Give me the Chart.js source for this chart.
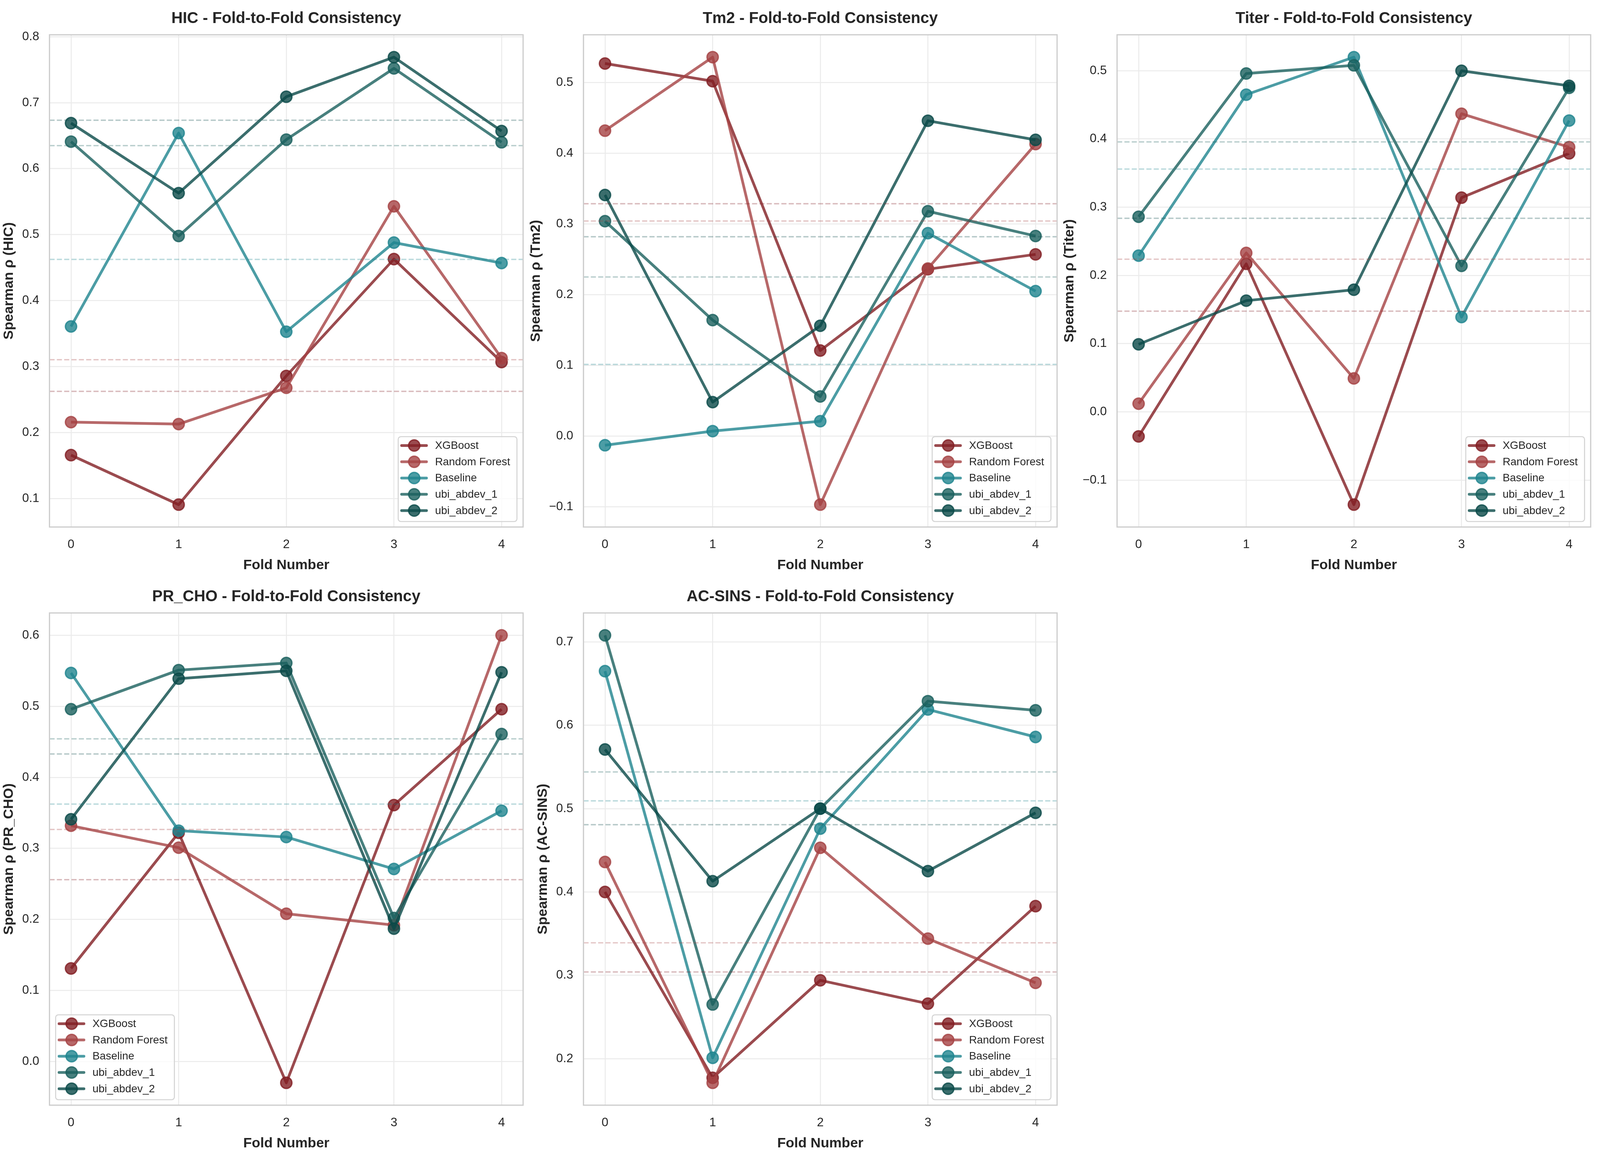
<!DOCTYPE html>
<html>
<head>
<meta charset="utf-8">
<script src="https://cdn.jsdelivr.net/npm/chart.js@4.4.0/dist/chart.umd.min.js"></script>
<style>
  html, body { margin: 0; padding: 0; background: #fff; overflow: hidden; }
  #fig { position: relative; overflow: hidden; }
  .panel { position: absolute; }
</style>
</head>
<body>
<div id="fig"></div>
<script>
// --- data (Spearman rho per fold) ---
const targets = ['HIC', 'Tm2', 'Titer', 'PR_CHO', 'AC-SINS'];
const folds = [0, 1, 2, 3, 4];
const modelNames = ['XGBoost', 'Random Forest', 'Baseline', 'ubi_abdev_1', 'ubi_abdev_2'];

// one row per target, in the order of `targets`
const xgboostRho = [
  [0.166, 0.091, 0.286, 0.463, 0.307],
  [0.527, 0.502, 0.121, 0.236, 0.257],
  [-0.036, 0.217, -0.136, 0.314, 0.379],
  [0.131, 0.322, -0.030, 0.361, 0.496],
  [0.400, 0.177, 0.294, 0.266, 0.383]
];
const randomForestRho = [
  [0.216, 0.213, 0.268, 0.543, 0.313],
  [0.432, 0.536, -0.097, 0.237, 0.413],
  [0.012, 0.233, 0.049, 0.437, 0.388],
  [0.332, 0.301, 0.208, 0.192, 0.600],
  [0.436, 0.171, 0.453, 0.344, 0.291]
];
const baselineRho = [
  [0.361, 0.654, 0.353, 0.488, 0.457],
  [-0.013, 0.007, 0.021, 0.287, 0.205],
  [0.229, 0.465, 0.520, 0.139, 0.427],
  [0.547, 0.325, 0.316, 0.271, 0.353],
  [0.665, 0.201, 0.476, 0.619, 0.586]
];
const ubiAbdev1Rho = [
  [0.641, 0.498, 0.644, 0.752, 0.640],
  [0.304, 0.164, 0.056, 0.318, 0.283],
  [0.286, 0.496, 0.508, 0.214, 0.475],
  [0.496, 0.551, 0.561, 0.202, 0.461],
  [0.708, 0.265, 0.500, 0.629, 0.618]
];
const ubiAbdev2Rho = [
  [0.669, 0.563, 0.709, 0.769, 0.657],
  [0.341, 0.048, 0.156, 0.446, 0.419],
  [0.099, 0.163, 0.179, 0.500, 0.478],
  [0.341, 0.539, 0.550, 0.187, 0.548],
  [0.571, 0.413, 0.500, 0.425, 0.495]
];
const seriesRho = [xgboostRho, randomForestRho, baselineRho, ubiAbdev1Rho, ubiAbdev2Rho];

// --- styling ---
const modelRGB = ['130,30,35', '165,66,67', '31,133,143', '26,96,94', '10,74,72'];
const legendCorner = ['br', 'br', 'br', 'bl', 'br'];

// layout of the 5379x2977 original; mapped onto whatever viewport we get
const FIG_W = 5379, FIG_H = 2977;
const AXES_LEFT = [167, 1961, 3755];
const AXES_TOP = [89, 1569];
const AXES_W = 1596, AXES_H = 1260;
const FONT = '"Liberation Sans", Arial, Helvetica, sans-serif';
const TEXT = '#262626';

const sx = Math.min(1, (window.innerWidth || FIG_W) / FIG_W);
const sy = Math.min(1, (window.innerHeight || FIG_H) / FIG_H);
const fs = Math.sqrt(sx * sy);   // size factor for fonts, strokes, markers

const TITLE_SIZE = 46 * fs, LABEL_SIZE = 41 * fs, TICK_SIZE = 36 * fs, LEGEND_SIZE = 32 * fs;
const TITLE_LH = TITLE_SIZE * 1.2, LABEL_LH = LABEL_SIZE * 1.2, TICK_LH = TICK_SIZE * 1.2;
const Y_W = 175 * fs, PAD_R = 20 * sx;
const TOP_BAND = 89 * sy, TITLE_MID = 41 * sy;
const X_H = 123 * sy, PAD_BOTTOM = 8 * sy;

Chart.defaults.font.family = FONT;
Chart.defaults.color = TEXT;

function fmtTick(v) {
  if (Math.abs(v) < 1e-9) return '0.0';
  return v.toFixed(1).replace('-', '\u2212');
}

const measureCtx = document.createElement('canvas').getContext('2d');
function widestTick(yMin, yMax) {
  measureCtx.font = TICK_SIZE + 'px ' + FONT;
  let w = 0;
  for (let k = Math.ceil(yMin * 10 - 1e-9); k <= Math.floor(yMax * 10 + 1e-9); k++) {
    w = Math.max(w, measureCtx.measureText(fmtTick(k / 10)).width);
  }
  return w;
}

// frame + legend inside the axes
const framePlugin = {
  id: 'frameAndLegend',
  afterDatasetsDraw(chart, args, opts) {
    const { ctx, chartArea: a } = chart;
    ctx.save();
    ctx.strokeStyle = '#cccccc';
    ctx.lineWidth = 3.5 * fs;
    ctx.strokeRect(a.left, a.top, a.right - a.left, a.bottom - a.top);

    const items = chart.data.datasets.filter(d => !d.isMean);
    ctx.font = LEGEND_SIZE + 'px ' + FONT;
    const textW = Math.max(...items.map(d => ctx.measureText(d.label).width));
    const w = 108 * fs + textW + 20 * fs, h = 249 * fs;
    const x0 = opts.corner === 'bl' ? a.left + 18 * fs : a.right - 18 * fs - w;
    const y0 = a.bottom - 16 * fs - h;

    ctx.beginPath();
    ctx.roundRect(x0, y0, w, h, 8 * fs);
    ctx.fillStyle = 'rgba(255,255,255,0.8)';
    ctx.fill();
    ctx.strokeStyle = '#d4d4d4';
    ctx.lineWidth = 3 * fs;
    ctx.stroke();

    items.forEach((d, k) => {
      const cy = y0 + (26 + k * 47.7) * fs;
      ctx.beginPath();
      ctx.moveTo(x0 + 10 * fs, cy);
      ctx.lineTo(x0 + 83 * fs, cy);
      ctx.strokeStyle = d.borderColor;
      ctx.lineWidth = d.borderWidth;
      ctx.lineCap = 'round';
      ctx.stroke();
      ctx.beginPath();
      ctx.arc(x0 + 47 * fs, cy, d.pointRadius, 0, Math.PI * 2);
      ctx.fillStyle = d.pointBackgroundColor;
      ctx.fill();
      ctx.strokeStyle = d.pointBorderColor;
      ctx.lineWidth = d.pointBorderWidth;
      ctx.stroke();
      ctx.fillStyle = TEXT;
      ctx.textAlign = 'left';
      ctx.textBaseline = 'middle';
      ctx.fillText(d.label, x0 + 108 * fs, cy + fs);
    });
    ctx.restore();
  }
};

const fig = document.getElementById('fig');
fig.style.width = Math.round(FIG_W * sx) + 'px';
fig.style.height = Math.round(FIG_H * sy) + 'px';

const xSpan = folds[folds.length - 1] - folds[0];
const xMin = folds[0] - 0.05 * xSpan, xMax = folds[folds.length - 1] + 0.05 * xSpan;

targets.forEach((target, t) => {
  const col = t % 3, row = Math.floor(t / 3);
  const axLeft = AXES_LEFT[col] * sx, axTop = AXES_TOP[row] * sy;
  const axW = AXES_W * sx, axH = AXES_H * sy;
  const w = Math.round(Y_W + axW + PAD_R);
  const h = Math.round(TOP_BAND + axH + X_H + PAD_BOTTOM);

  const div = document.createElement('div');
  div.className = 'panel';
  div.style.left = (axLeft - Y_W) + 'px';
  div.style.top = (axTop - TOP_BAND) + 'px';
  div.style.width = w + 'px';
  div.style.height = h + 'px';
  const canvas = document.createElement('canvas');
  canvas.style.width = w + 'px'; canvas.style.height = h + 'px';
  canvas.width = w; canvas.height = h;
  div.appendChild(canvas);
  fig.appendChild(div);

  const all = seriesRho.flatMap(s => s[t]);
  const yLo = Math.min(...all), yHi = Math.max(...all);
  const yMin = yLo - 0.05 * (yHi - yLo), yMax = yHi + 0.05 * (yHi - yLo);

  // y label sits left of the widest tick label, as matplotlib places it
  const yTitleGap = 30 * fs + widestTick(yMin, yMax) + 14 * fs + LABEL_LH / 2;

  const lines = modelNames.map((name, m) => ({
    label: name,
    data: folds.map((f, i) => ({ x: f, y: seriesRho[m][t][i] })),
    borderColor: `rgba(${modelRGB[m]},0.8)`,
    backgroundColor: `rgba(${modelRGB[m]},0.8)`,
    pointBackgroundColor: `rgba(${modelRGB[m]},0.8)`,
    pointBorderColor: `rgba(${modelRGB[m]},0.8)`,
    borderWidth: 8 * fs,
    pointRadius: 16.5 * fs,
    pointBorderWidth: 4 * fs,
    borderJoinStyle: 'round',
    tension: 0,
    order: modelNames.length - m
  }));
  const means = modelNames.map((name, m) => {
    const v = seriesRho[m][t];
    const mean = v.reduce((s, x) => s + x, 0) / v.length;
    return {
      label: name + ' mean',
      isMean: true,
      data: [{ x: xMin, y: mean }, { x: xMax, y: mean }],
      borderColor: `rgba(${modelRGB[m]},0.3)`,
      borderWidth: 4 * fs,
      borderDash: [15 * fs, 6.5 * fs],
      pointRadius: 0,
      order: 0
    };
  });

  new Chart(canvas.getContext('2d'), {
    type: 'line',
    data: { datasets: lines.concat(means) },
    plugins: [framePlugin],
    options: {
      responsive: false,
      maintainAspectRatio: false,
      animation: false,
      devicePixelRatio: window.devicePixelRatio || 1,
      events: [],
      layout: {
        padding: { top: TOP_BAND - TITLE_MID - TITLE_LH / 2, left: 0, right: PAD_R, bottom: PAD_BOTTOM }
      },
      plugins: {
        legend: { display: false },
        tooltip: { enabled: false },
        title: {
          display: true,
          text: target + ' - Fold-to-Fold Consistency',
          fullSize: false,
          color: TEXT,
          font: { size: TITLE_SIZE, weight: 'bold', lineHeight: 1.2 },
          padding: { top: 0, bottom: TITLE_MID - TITLE_LH / 2 }
        },
        frameAndLegend: { corner: legendCorner[t] }
      },
      scales: {
        x: {
          type: 'linear',
          min: xMin, max: xMax,
          afterFit: s => { s.height = X_H; },
          ticks: {
            stepSize: 1, includeBounds: false, padding: 45 * sy - TICK_LH / 2,
            font: { size: TICK_SIZE, lineHeight: 1.2 }, color: TEXT,
            callback: v => String(v)
          },
          grid: { color: '#ebebeb', lineWidth: 3 * fs, drawTicks: false },
          border: { display: false },
          title: {
            display: true, text: 'Fold Number', color: TEXT,
            font: { size: LABEL_SIZE, weight: 'bold', lineHeight: 1.2 },
            padding: { top: 0, bottom: Math.max(0, X_H - 98 * sy - LABEL_LH / 2) }
          }
        },
        y: {
          type: 'linear',
          min: yMin, max: yMax,
          afterFit: s => { s.width = Y_W; },
          ticks: {
            stepSize: 0.1, includeBounds: false, padding: 30 * fs,
            font: { size: TICK_SIZE, lineHeight: 1.2 }, color: TEXT,
            callback: v => fmtTick(v)
          },
          grid: { color: '#ebebeb', lineWidth: 3 * fs, drawTicks: false },
          border: { display: false },
          title: {
            display: true, text: 'Spearman \u03c1 (' + target + ')', color: TEXT,
            font: { size: LABEL_SIZE, weight: 'bold', lineHeight: 1.2 },
            padding: { top: Y_W - yTitleGap - LABEL_LH / 2, bottom: 0 }
          }
        }
      }
    }
  });
});
</script>
</body>
</html>
